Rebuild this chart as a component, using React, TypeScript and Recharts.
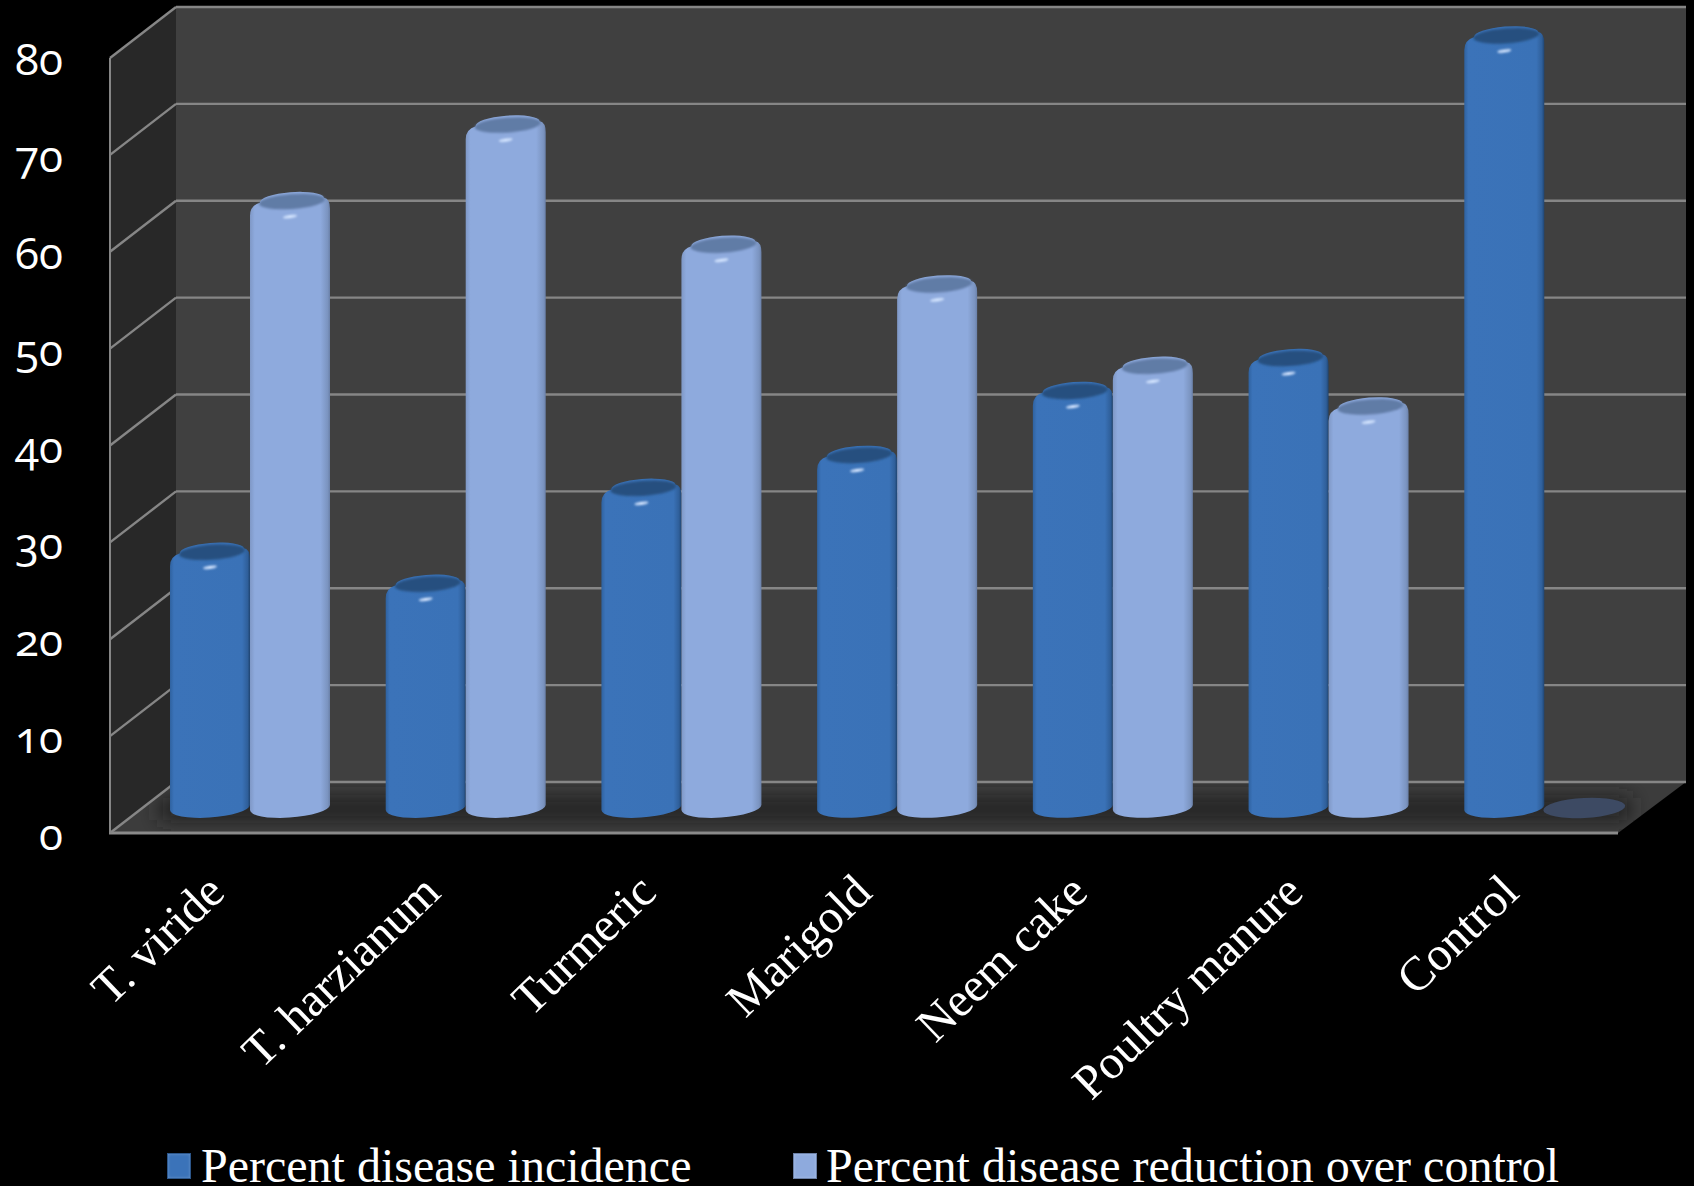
import React from "react";
import { BarChart, Bar, XAxis, YAxis, CartesianGrid, Legend } from "recharts";

const categories = ["T. viride", "T. harzianum", "Turmeric", "Marigold", "Neem cake", "Poultry manure", "Control"];
const diseaseIncidence = [26.7, 23.4, 33.3, 36.7, 43.3, 46.7, 80];
const diseaseReduction = [62.9, 70.8, 58.4, 54.3, 45.9, 41.7, 0];
const yTicks = [0, 10, 20, 30, 40, 50, 60, 70, 80];
const seriesNames = ["Percent disease incidence", "Percent disease reduction over control"];

const rows = categories.map((name, i) => ({
  name,
  incidence: diseaseIncidence[i],
  reduction: diseaseReduction[i],
}));

const WIDTH = 1694;
const HEIGHT = 1186;
const SERIF = '"Liberation Serif", "Times New Roman", serif';

// Box geometry of the 3D frame: the bars stand halfway between the front edge and the back wall.
const FRONT_LEFT = 110;
const FRONT_RIGHT = 1618;
const BACK_LEFT = 176;
const BACK_RIGHT = 1686;
const FRONT_DROP = 25;
const BACK_RISE = 26;
const GRID = "#868686";

function frameWalls(baseY: number, topY: number) {
  const frontBase = baseY + FRONT_DROP;
  const frontTop = topY + FRONT_DROP;
  const backBase = baseY - BACK_RISE;
  const backTop = topY - BACK_RISE;
  return (
    <g>
      <rect x={BACK_LEFT} y={backTop} width={BACK_RIGHT - BACK_LEFT} height={backBase - backTop} fill="#404040" />
      <polygon
        points={`${FRONT_LEFT},${frontTop} ${BACK_LEFT},${backTop} ${BACK_LEFT},${backBase} ${FRONT_LEFT},${frontBase}`}
        fill="#282828"
      />
      <polygon
        points={`${FRONT_LEFT},${frontBase} ${FRONT_RIGHT},${frontBase} ${BACK_RIGHT},${backBase} ${BACK_LEFT},${backBase}`}
        fill="#3c3c3c"
      />
      <g clipPath="url(#floorClip)">
        <rect x={160} y={baseY - 10} width={1470} height={22} fill="#202020" filter="url(#floorShadow)" />
      </g>
      <line x1={FRONT_LEFT} y1={frontTop} x2={FRONT_LEFT} y2={frontBase + 1} stroke={GRID} strokeWidth={2} />
      <line x1={FRONT_LEFT - 1} y1={frontBase} x2={FRONT_RIGHT} y2={frontBase} stroke="#8a8a8a" strokeWidth={3} />
    </g>
  );
}

// One row of the frame's grid: a slanted stroke over the side wall and a level stroke over the back wall.
function GridRow(props: any) {
  const y = props.y1;
  const baseY = props.y + props.height;
  return (
    <g key={props.key}>
      {props.index === 0 ? frameWalls(baseY, props.y) : null}
      <line x1={BACK_LEFT} y1={y - BACK_RISE} x2={BACK_RIGHT} y2={y - BACK_RISE} stroke={GRID} strokeWidth={2.4} />
      <line x1={FRONT_LEFT} y1={y + FRONT_DROP} x2={BACK_LEFT} y2={y - BACK_RISE} stroke={GRID} strokeWidth={2.4} />
    </g>
  );
}

function ValueTick({ y, payload }: any) {
  return (
    <text
      x={63}
      y={y + FRONT_DROP + 17}
      textAnchor="end"
      fill="#ffffff"
      fontFamily='"Open Sans", "Noto Sans", sans-serif'
      fontSize={44}
      style={{ fontFeatureSettings: '"onum"' }}
    >
      {payload.value}
    </text>
  );
}

function CategoryTick({ x, payload }: any) {
  const ax = x - 23;
  const ay = 895;
  return (
    <text
      x={ax}
      y={ay}
      textAnchor="end"
      fill="#ffffff"
      fontFamily={SERIF}
      fontSize={48}
      transform={`rotate(-44 ${ax} ${ay})`}
    >
      {payload.value}
    </text>
  );
}

// Cylinder with a bevelled top, a darker cap and a small specular glint.
function cylinder(bodyId: string, capFill: string, emptyFill: string) {
  return function Cylinder({ x, y, width, height }: any) {
    const a = width / 2;
    const cx = x + a;
    const bottom = y + height;
    if (height < 1) {
      return <ellipse cx={cx} cy={bottom} rx={a + 1} ry={10} fill={emptyFill} transform={`rotate(-3 ${cx} ${bottom})`} />;
    }
    const capY = y + 3;
    const foot = bottom - 2;
    const outline = [
      `M ${x} ${foot + 4}`,
      `L ${x} ${capY + 14}`,
      `Q ${x} ${capY + 4} ${x + 10} ${capY + 1}`,
      `A ${a - 8} 8 -4 0 1 ${x + width - 6} ${capY - 4}`,
      `Q ${x + width} ${capY - 3} ${x + width} ${capY + 7}`,
      `L ${x + width} ${foot - 1}`,
      `A ${a} 10 -4 0 1 ${x} ${foot + 4}`,
      "Z",
    ].join(" ");
    return (
      <g>
        <path d={outline} fill={`url(#${bodyId})`} />
        <ellipse
          cx={cx + 2}
          cy={capY}
          rx={a - 7}
          ry={7.5}
          fill={capFill}
          filter="url(#capSoft)"
          transform={`rotate(-4 ${cx} ${capY})`}
        />
        <ellipse
          cx={cx}
          cy={capY + 15}
          rx={7}
          ry={1.6}
          fill="#d6e6ff"
          filter="url(#capSoft)"
          transform={`rotate(-8 ${cx} ${capY + 15})`}
        />
      </g>
    );
  };
}

const IncidenceBar = cylinder("bodyDark", "#27507f", "#3d4a63");
const ReductionBar = cylinder("bodyLight", "#607ba6", "#3d4a63");

function LegendRow({ payload }: any) {
  const lefts = [[167, 201], [793, 826]];
  return (
    <div style={{ position: "relative", width: WIDTH, height: 46 }}>
      {(payload || []).map((entry: any, i: number) => (
        <React.Fragment key={entry.value}>
          <div
            style={{
              position: "absolute",
              left: lefts[i][0],
              top: 13,
              width: 24,
              height: 26,
              background: entry.color,
              boxSizing: "border-box",
              border: "1px solid rgba(0,0,0,0.25)",
              boxShadow: "inset 0 0 3px rgba(255,255,255,0.25)",
            }}
          />
          <div
            style={{
              position: "absolute",
              left: lefts[i][1],
              top: 3,
              lineHeight: "46px",
              fontFamily: SERIF,
              fontSize: 48,
              color: "#ffffff",
              whiteSpace: "nowrap",
            }}
          >
            {entry.value}
          </div>
        </React.Fragment>
      ))}
    </div>
  );
}

export default function App() {
  return (
    <div style={{ position: "absolute", left: 0, top: 0, width: WIDTH, height: HEIGHT, background: "#000000", overflow: "hidden" }}>
      <BarChart
        width={WIDTH}
        height={HEIGHT}
        data={rows}
        margin={{ top: 33, right: 42, bottom: 0, left: 0 }}
        barSize={80}
        barGap={0}
      >
        <defs>
          <linearGradient id="bodyDark" x1="0" y1="0" x2="1" y2="0">
            <stop offset="0" stopColor="#2f62a0" />
            <stop offset="0.05" stopColor="#3b73b9" />
            <stop offset="0.9" stopColor="#3a72b7" />
            <stop offset="0.97" stopColor="#2f5f9a" />
            <stop offset="1" stopColor="#1f4470" />
          </linearGradient>
          <linearGradient id="bodyLight" x1="0" y1="0" x2="1" y2="0">
            <stop offset="0" stopColor="#7f98c6" />
            <stop offset="0.06" stopColor="#8eaadd" />
            <stop offset="0.88" stopColor="#8eaadd" />
            <stop offset="0.97" stopColor="#7b94c0" />
            <stop offset="1" stopColor="#6a80a8" />
          </linearGradient>
          <filter id="floorShadow" x="-5%" y="-150%" width="110%" height="400%">
            <feGaussianBlur stdDeviation="10" />
          </filter>
          <filter id="capSoft" x="-20%" y="-60%" width="140%" height="220%">
            <feGaussianBlur stdDeviation="0.9" />
          </filter>
          <clipPath id="floorClip">
            <polygon points={`${FRONT_LEFT},833 ${FRONT_RIGHT},833 ${BACK_RIGHT},782 ${BACK_LEFT},782`} />
          </clipPath>
        </defs>
        <CartesianGrid horizontal={GridRow} vertical={false} />
        <XAxis dataKey="name" height={332} axisLine={false} tickLine={false} interval={0} tick={<CategoryTick />} />
        <YAxis width={142} domain={[0, 80]} ticks={yTicks} axisLine={false} tickLine={false} tick={<ValueTick />} />
        <Bar dataKey="incidence" name={seriesNames[0]} fill="#3b73b9" shape={IncidenceBar} isAnimationActive={false} />
        <Bar dataKey="reduction" name={seriesNames[1]} fill="#8eaadd" shape={ReductionBar} isAnimationActive={false} />
        <Legend
          verticalAlign="bottom"
          content={<LegendRow />}
          wrapperStyle={{ left: 0, bottom: 0, width: WIDTH, height: 46 }}
        />
      </BarChart>
    </div>
  );
}
